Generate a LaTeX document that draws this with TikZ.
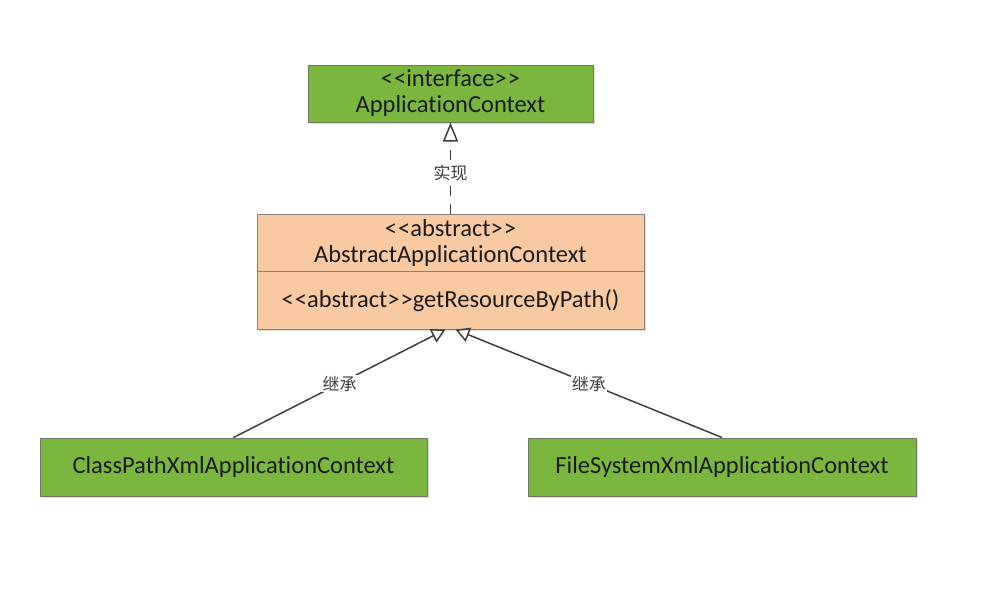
\documentclass[tikz,border=0pt]{standalone}
\usepackage{fontspec}
\setmainfont{Carlito}[Ligatures={NoCommon,NoRare,NoContextual}]
\newfontfamily\cjk{Noto Sans CJK SC}
\usetikzlibrary{positioning}
\usetikzlibrary{arrows.meta}
\usetikzlibrary{shadows}
\usetikzlibrary{calc}
\definecolor{classgreen}{HTML}{7BB73F}
\definecolor{classorange}{HTML}{F9CAA2}
\definecolor{boxborder}{HTML}{6E7A63}
\definecolor{linegray}{HTML}{404040}
\definecolor{textdark}{HTML}{1C1C1C}
\tikzstyle{block} = [draw=boxborder, line width=1pt, rectangle, fill=classgreen, text=textdark, font=\fontsize{24.5}{26}\selectfont, align=center, drop shadow={shadow xshift=2pt, shadow yshift=-2pt, opacity=0.25}]
\tikzstyle{absblock} = [block, fill=classorange, draw=gray]
\tikzstyle{relation} = [draw=linegray, line width=1.5pt]
\tikzstyle{realize} = [relation, dash pattern=on 10pt off 8pt, -{Triangle[open, length=19pt, width=15pt, line width=1.5pt]}]
\tikzstyle{inherit} = [relation, -{Triangle[open, length=14pt, width=15pt, line width=1.5pt]}]
\tikzstyle{tag} = [fill=white, text=linegray, inner sep=1pt, font=\cjk\fontsize{17}{17}\selectfont]

\begin{document}
\begin{tikzpicture}[x=1pt, y=-1pt]
    \useasboundingbox[fill=white] (0,0) rectangle (987,606);
    \node[block, minimum width=285pt, minimum height=57pt] (iface) at (450.5,93.5)
       {<\kern1pt<interface>\kern1pt>\\ApplicationContext};
    \node[absblock, below of=iface, node distance=178pt, minimum width=387pt, minimum height=115pt] (abs) {};
    \draw[draw=gray, line width=1pt] (abs.west) -- (abs.east);
    \node[text=textdark, font=\fontsize{24.5}{26}\selectfont, align=center] (absname)
       at ($(abs.north)!0.5!(abs.center)$) {<\kern1pt<abstract>\kern1pt>\\AbstractApplicationContext};
    \node[text=textdark, font=\fontsize{24.5}{26}\selectfont] (absop)
       at ($(abs.center)!0.5!(abs.south)$) {<\kern1pt<abstract>\kern1pt>getResourceByPath()};
    \node[block, minimum width=387pt, minimum height=58pt] (cpx) at (233.5,467) {ClassPathXmlApplicationContext};
    \node[block, minimum width=388pt, minimum height=58pt] (fsx) at (722,467) {FileSystemXmlApplicationContext};

    \draw[realize] (abs) -- node[tag, pos=0.45] {实现} (iface);
    \draw[inherit] (cpx.north) -- node[tag, pos=0.5] {继承} ([xshift=-5pt]abs.south);
    \draw[inherit] (fsx.north) -- node[tag, pos=0.5] {继承} ([xshift=5pt]abs.south);
\end{tikzpicture}
\end{document}
